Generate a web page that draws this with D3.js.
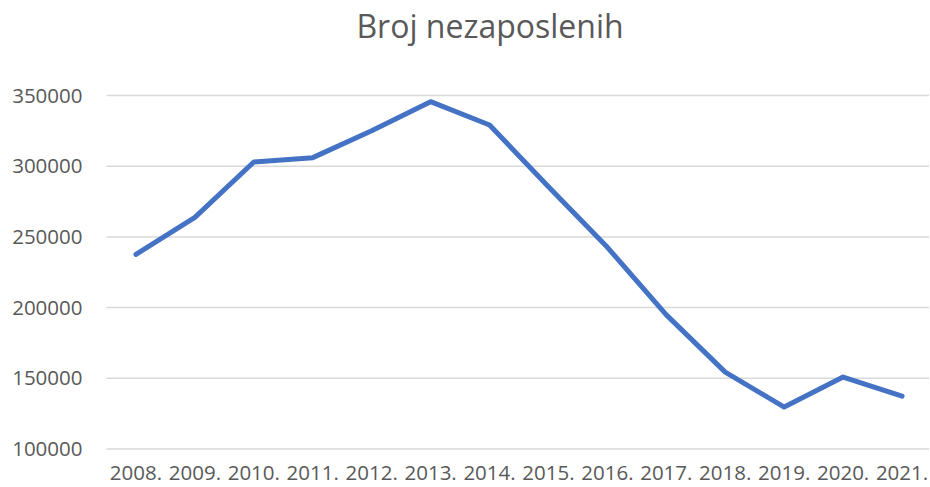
<!DOCTYPE html>
<html>
<head>
<meta charset="utf-8">
<script src="https://cdn.jsdelivr.net/npm/d3@7"></script>
<style>
  body { margin: 0; background: #fff; }
  text { font-family: "Open Sans", sans-serif; fill: #595959; }
</style>
</head>
<body>
<div id="chart"></div>
<script>
// data
const years = ["2008.", "2009.", "2010.", "2011.", "2012.", "2013.", "2014.",
               "2015.", "2016.", "2017.", "2018.", "2019.", "2020.", "2021."];
const unemployed = [237300, 263500, 302600, 305700, 324700, 345300, 328800,
                    285100, 242300, 194500, 154000, 129300, 150500, 137000];
const yTicks = [100000, 150000, 200000, 250000, 300000, 350000];

const width = 930, height = 487;
const margin = { top: 95, right: -1.5, bottom: 38.5, left: 106.5 };

const svg = d3.select("#chart").append("svg")
  .attr("width", width)
  .attr("height", height);

const x = d3.scaleBand()
  .domain(years)
  .range([margin.left, width - margin.right]);

const y = d3.scaleLinear()
  .domain([100000, 350000])
  .range([height - margin.bottom, margin.top]);

// title
svg.append("text")
  .attr("x", 490)
  .attr("y", 38)
  .attr("text-anchor", "middle")
  .style("font-size", "32px")
  .text("Broj nezaposlenih");

// gridlines + y labels
const yAxis = d3.axisLeft(y)
  .tickValues(yTicks)
  .tickSize(-(width - margin.left - 1))
  .tickPadding(24)
  .tickFormat(d3.format("d"));

const gy = svg.append("g")
  .attr("transform", `translate(${margin.left},0)`)
  .call(yAxis);
gy.select(".domain").remove();
gy.selectAll(".tick line").attr("stroke", "#d9d9d9").attr("stroke-width", 1.5);
gy.selectAll(".tick text")
  .attr("dy", "0.35em")
  .style("font-size", "20.5px");

// x labels
const xAxis = d3.axisBottom(x).tickSize(0).tickPadding(17);
const gx = svg.append("g")
  .attr("transform", `translate(0,${y(100000)})`)
  .call(xAxis);
gx.select(".domain").remove();
gx.selectAll(".tick text").style("font-size", "20.5px");

// the line
const line = d3.line()
  .x((d, i) => x(years[i]) + x.bandwidth() / 2)
  .y(d => y(d));

svg.append("path")
  .datum(unemployed)
  .attr("fill", "none")
  .attr("stroke", "#4472c4")
  .attr("stroke-width", 5)
  .attr("stroke-linejoin", "round")
  .attr("stroke-linecap", "round")
  .attr("d", line);
</script>
</body>
</html>
